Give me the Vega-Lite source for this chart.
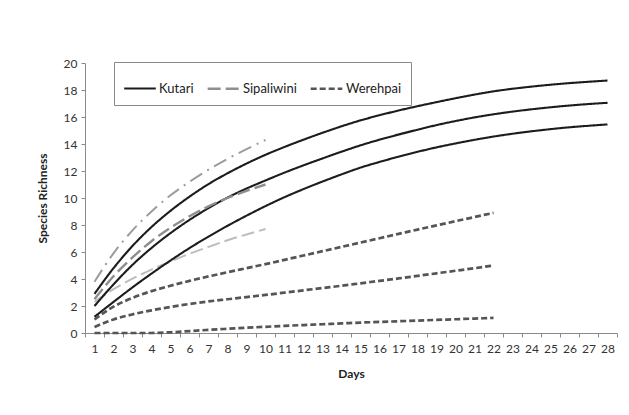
{
  "$schema": "https://vega.github.io/schema/vega-lite/v6.json",
  "autosize": {"type": "none"},
  "padding": {"left": 85, "top": 63, "right": 12, "bottom": 82},
  "width": 532,
  "height": 270,
  "background": "white",
  "config": {
    "font": "Lato",
    "view": {"stroke": null},
    "axis": {"grid": false, "domainColor": "#8a8a8a", "tickColor": "#8a8a8a", "tickSize": 4, "labelColor": "#333333", "labelFontSize": 12, "titleFontSize": 12, "titleFontWeight": "bold", "titleColor": "#222222", "labelFont": "Lato", "titleFont": "Lato"}
  },
  "data": {
    "values": [
      {"site": "Kutari", "day": 1, "upper": 2.9, "mean": 2.0, "lower": 1.2},
      {"site": "Kutari", "day": 2, "upper": 4.8, "mean": 3.6, "lower": 2.3},
      {"site": "Kutari", "day": 3, "upper": 6.45, "mean": 5.05, "lower": 3.38},
      {"site": "Kutari", "day": 4, "upper": 7.85, "mean": 6.3, "lower": 4.4},
      {"site": "Kutari", "day": 5, "upper": 9.05, "mean": 7.4, "lower": 5.37},
      {"site": "Kutari", "day": 6, "upper": 10.1, "mean": 8.38, "lower": 6.29},
      {"site": "Kutari", "day": 7, "upper": 11.03, "mean": 9.25, "lower": 7.14},
      {"site": "Kutari", "day": 8, "upper": 11.83, "mean": 10.03, "lower": 7.94},
      {"site": "Kutari", "day": 9, "upper": 12.55, "mean": 10.7, "lower": 8.69},
      {"site": "Kutari", "day": 10, "upper": 13.2, "mean": 11.3, "lower": 9.4},
      {"site": "Kutari", "day": 11, "upper": 13.78, "mean": 11.88, "lower": 10.06},
      {"site": "Kutari", "day": 12, "upper": 14.32, "mean": 12.42, "lower": 10.66},
      {"site": "Kutari", "day": 13, "upper": 14.83, "mean": 12.93, "lower": 11.22},
      {"site": "Kutari", "day": 14, "upper": 15.31, "mean": 13.43, "lower": 11.75},
      {"site": "Kutari", "day": 15, "upper": 15.75, "mean": 13.9, "lower": 12.25},
      {"site": "Kutari", "day": 16, "upper": 16.13, "mean": 14.32, "lower": 12.67},
      {"site": "Kutari", "day": 17, "upper": 16.48, "mean": 14.7, "lower": 13.06},
      {"site": "Kutari", "day": 18, "upper": 16.8, "mean": 15.06, "lower": 13.42},
      {"site": "Kutari", "day": 19, "upper": 17.1, "mean": 15.4, "lower": 13.75},
      {"site": "Kutari", "day": 20, "upper": 17.39, "mean": 15.7, "lower": 14.04},
      {"site": "Kutari", "day": 21, "upper": 17.66, "mean": 15.97, "lower": 14.31},
      {"site": "Kutari", "day": 22, "upper": 17.9, "mean": 16.2, "lower": 14.55},
      {"site": "Kutari", "day": 23, "upper": 18.09, "mean": 16.4, "lower": 14.76},
      {"site": "Kutari", "day": 24, "upper": 18.25, "mean": 16.57, "lower": 14.94},
      {"site": "Kutari", "day": 25, "upper": 18.39, "mean": 16.72, "lower": 15.1},
      {"site": "Kutari", "day": 26, "upper": 18.51, "mean": 16.85, "lower": 15.24},
      {"site": "Kutari", "day": 27, "upper": 18.61, "mean": 16.96, "lower": 15.35},
      {"site": "Kutari", "day": 28, "upper": 18.7, "mean": 17.05, "lower": 15.45},
      {"site": "Sipaliwini", "day": 1, "upper": 3.8, "mean": 2.5, "lower": 2.3},
      {"site": "Sipaliwini", "day": 2, "upper": 5.9, "mean": 4.2, "lower": 3.25},
      {"site": "Sipaliwini", "day": 3, "upper": 7.6, "mean": 5.6, "lower": 4.02},
      {"site": "Sipaliwini", "day": 4, "upper": 9.0, "mean": 6.8, "lower": 4.7},
      {"site": "Sipaliwini", "day": 5, "upper": 10.2, "mean": 7.8, "lower": 5.3},
      {"site": "Sipaliwini", "day": 6, "upper": 11.2, "mean": 8.65, "lower": 5.87},
      {"site": "Sipaliwini", "day": 7, "upper": 12.1, "mean": 9.38, "lower": 6.38},
      {"site": "Sipaliwini", "day": 8, "upper": 12.9, "mean": 10.0, "lower": 6.87},
      {"site": "Sipaliwini", "day": 9, "upper": 13.62, "mean": 10.53, "lower": 7.3},
      {"site": "Sipaliwini", "day": 10, "upper": 14.3, "mean": 11.0, "lower": 7.7},
      {"site": "Werehpai", "day": 1, "upper": 1.0, "mean": 0.45, "lower": 0.0},
      {"site": "Werehpai", "day": 2, "upper": 1.95, "mean": 1.0, "lower": 0.0},
      {"site": "Werehpai", "day": 3, "upper": 2.6, "mean": 1.38, "lower": 0.0},
      {"site": "Werehpai", "day": 4, "upper": 3.1, "mean": 1.68, "lower": 0.0},
      {"site": "Werehpai", "day": 5, "upper": 3.5, "mean": 1.93, "lower": 0.05},
      {"site": "Werehpai", "day": 6, "upper": 3.86, "mean": 2.15, "lower": 0.14},
      {"site": "Werehpai", "day": 7, "upper": 4.19, "mean": 2.34, "lower": 0.23},
      {"site": "Werehpai", "day": 8, "upper": 4.5, "mean": 2.5, "lower": 0.31},
      {"site": "Werehpai", "day": 9, "upper": 4.8, "mean": 2.66, "lower": 0.39},
      {"site": "Werehpai", "day": 10, "upper": 5.1, "mean": 2.82, "lower": 0.46},
      {"site": "Werehpai", "day": 11, "upper": 5.42, "mean": 2.99, "lower": 0.53},
      {"site": "Werehpai", "day": 12, "upper": 5.74, "mean": 3.16, "lower": 0.59},
      {"site": "Werehpai", "day": 13, "upper": 6.06, "mean": 3.33, "lower": 0.65},
      {"site": "Werehpai", "day": 14, "upper": 6.38, "mean": 3.5, "lower": 0.71},
      {"site": "Werehpai", "day": 15, "upper": 6.7, "mean": 3.68, "lower": 0.77},
      {"site": "Werehpai", "day": 16, "upper": 7.02, "mean": 3.86, "lower": 0.82},
      {"site": "Werehpai", "day": 17, "upper": 7.34, "mean": 4.04, "lower": 0.87},
      {"site": "Werehpai", "day": 18, "upper": 7.66, "mean": 4.23, "lower": 0.92},
      {"site": "Werehpai", "day": 19, "upper": 7.97, "mean": 4.42, "lower": 0.97},
      {"site": "Werehpai", "day": 20, "upper": 8.28, "mean": 4.61, "lower": 1.02},
      {"site": "Werehpai", "day": 21, "upper": 8.59, "mean": 4.8, "lower": 1.07},
      {"site": "Werehpai", "day": 22, "upper": 8.9, "mean": 5.0, "lower": 1.12}
    ]
  },
  "transform": [
    {"fold": ["upper", "mean", "lower"], "as": ["curve", "value"]}
  ],
  "encoding": {
    "x": {
      "field": "day", "type": "ordinal", "bandPosition": 0.5,
      "scale": {"type": "band", "paddingInner": 0, "paddingOuter": 0, "domain": [1,2,3,4,5,6,7,8,9,10,11,12,13,14,15,16,17,18,19,20,21,22,23,24,25,26,27,28]},
      "axis": {"title": "Days", "labelAngle": 0, "tickBand": "extent", "labelPadding": 6, "titlePadding": 14}
    },
    "y": {
      "field": "value", "type": "quantitative",
      "scale": {"domain": [0, 20], "nice": false},
      "axis": {"title": "Species Richness", "values": [0,2,4,6,8,10,12,14,16,18,20], "labelPadding": 4, "titlePadding": 14}
    }
  },
  "layer": [
    {
      "transform": [{"filter": "datum.site === 'Sipaliwini' && datum.curve === 'upper'"}],
      "mark": {"type": "line", "interpolate": "monotone", "strokeWidth": 2, "color": "#9c9c9c", "strokeDash": [14, 6, 2, 6]},
      "encoding": {}
    },
    {
      "transform": [{"filter": "datum.site === 'Sipaliwini' && datum.curve === 'lower'"}],
      "mark": {"type": "line", "interpolate": "monotone", "strokeWidth": 2, "color": "#bdbdbd", "strokeDash": [13, 5]},
      "encoding": {}
    },
    {
      "transform": [{"filter": "datum.site !== 'Sipaliwini' || datum.curve === 'mean'"}],
      "mark": {"type": "line", "interpolate": "monotone"},
      "encoding": {
        "detail": {"field": "curve"},
        "strokeWidth": {
          "field": "site", "type": "nominal", "legend": null,
          "scale": {"domain": ["Kutari", "Sipaliwini", "Werehpai"], "range": [2.1, 2.7, 2.2]}
        },
        "color": {
          "field": "site", "type": "nominal",
          "scale": {"domain": ["Kutari", "Sipaliwini", "Werehpai"], "range": ["#1c1c1c", "#8e8e8e", "#555555"]},
          "legend": {
            "title": null, "orient": "none", "legendX": 29, "legendY": -1, "direction": "horizontal",
            "strokeColor": "#8a8a8a", "padding": 9, "symbolType": "stroke", "symbolSize": 1000,
            "symbolStrokeWidth": 2.2, "labelFontSize": 13, "labelColor": "#222222", "labelOffset": 2, "columnPadding": 8, "labelFont": "Lato"
          }
        },
        "strokeDash": {
          "field": "site", "type": "nominal",
          "scale": {"domain": ["Kutari", "Sipaliwini", "Werehpai"], "range": [[1, 0], [13, 5], [6, 3]]},
          "legend": {
            "title": null, "orient": "none", "legendX": 29, "legendY": -1, "direction": "horizontal",
            "strokeColor": "#8a8a8a", "padding": 9, "symbolType": "stroke", "symbolSize": 1000,
            "symbolStrokeWidth": 2.2, "labelFontSize": 13, "labelColor": "#222222", "labelOffset": 2, "columnPadding": 8, "labelFont": "Lato"
          }
        }
      }
    }
  ]
}
